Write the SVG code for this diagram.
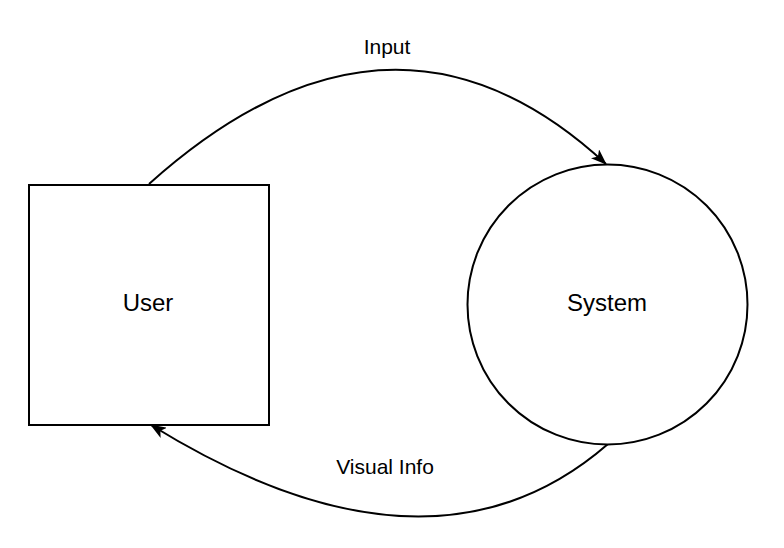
<svg xmlns="http://www.w3.org/2000/svg" width="784" height="548" viewBox="0 0 784 548">
<style>
.shape{fill:#fff;stroke:#000;stroke-width:2}
.edge{fill:none;stroke:#000;stroke-width:2}
text{font-family:"Liberation Sans",Arial,sans-serif;font-size:21px;fill:#000;text-anchor:middle}
.node-label{font-size:24px}
</style>
<defs>
<marker id="arrow" viewBox="0 0 16 12" refX="15" refY="6" markerWidth="16" markerHeight="12" markerUnits="userSpaceOnUse" orient="auto">
<path d="M0,0 L16,6 L0,12 L4,6 Z" fill="#000"/>
</marker>
</defs>
<rect width="784" height="548" fill="#fff"/>
<g id="connectors">
<path id="edge-input" class="edge" d="M149,184 Q392,-34 606,164" marker-end="url(#arrow)"/>
<path id="edge-visual" class="edge" d="M608,444 Q431,598 151,425" marker-end="url(#arrow)"/>
</g>
<g id="node-user">
<rect class="shape" x="29" y="185" width="240" height="240"/>
<text class="node-label" x="148" y="311">User</text>
</g>
<g id="node-system">
<circle class="shape" cx="607.5" cy="304.5" r="140"/>
<text class="node-label" x="607" y="311">System</text>
</g>
<g id="label-input"><text x="387" y="54">Input</text></g>
<g id="label-visual"><text x="385" y="474">Visual Info</text></g>
</svg>
